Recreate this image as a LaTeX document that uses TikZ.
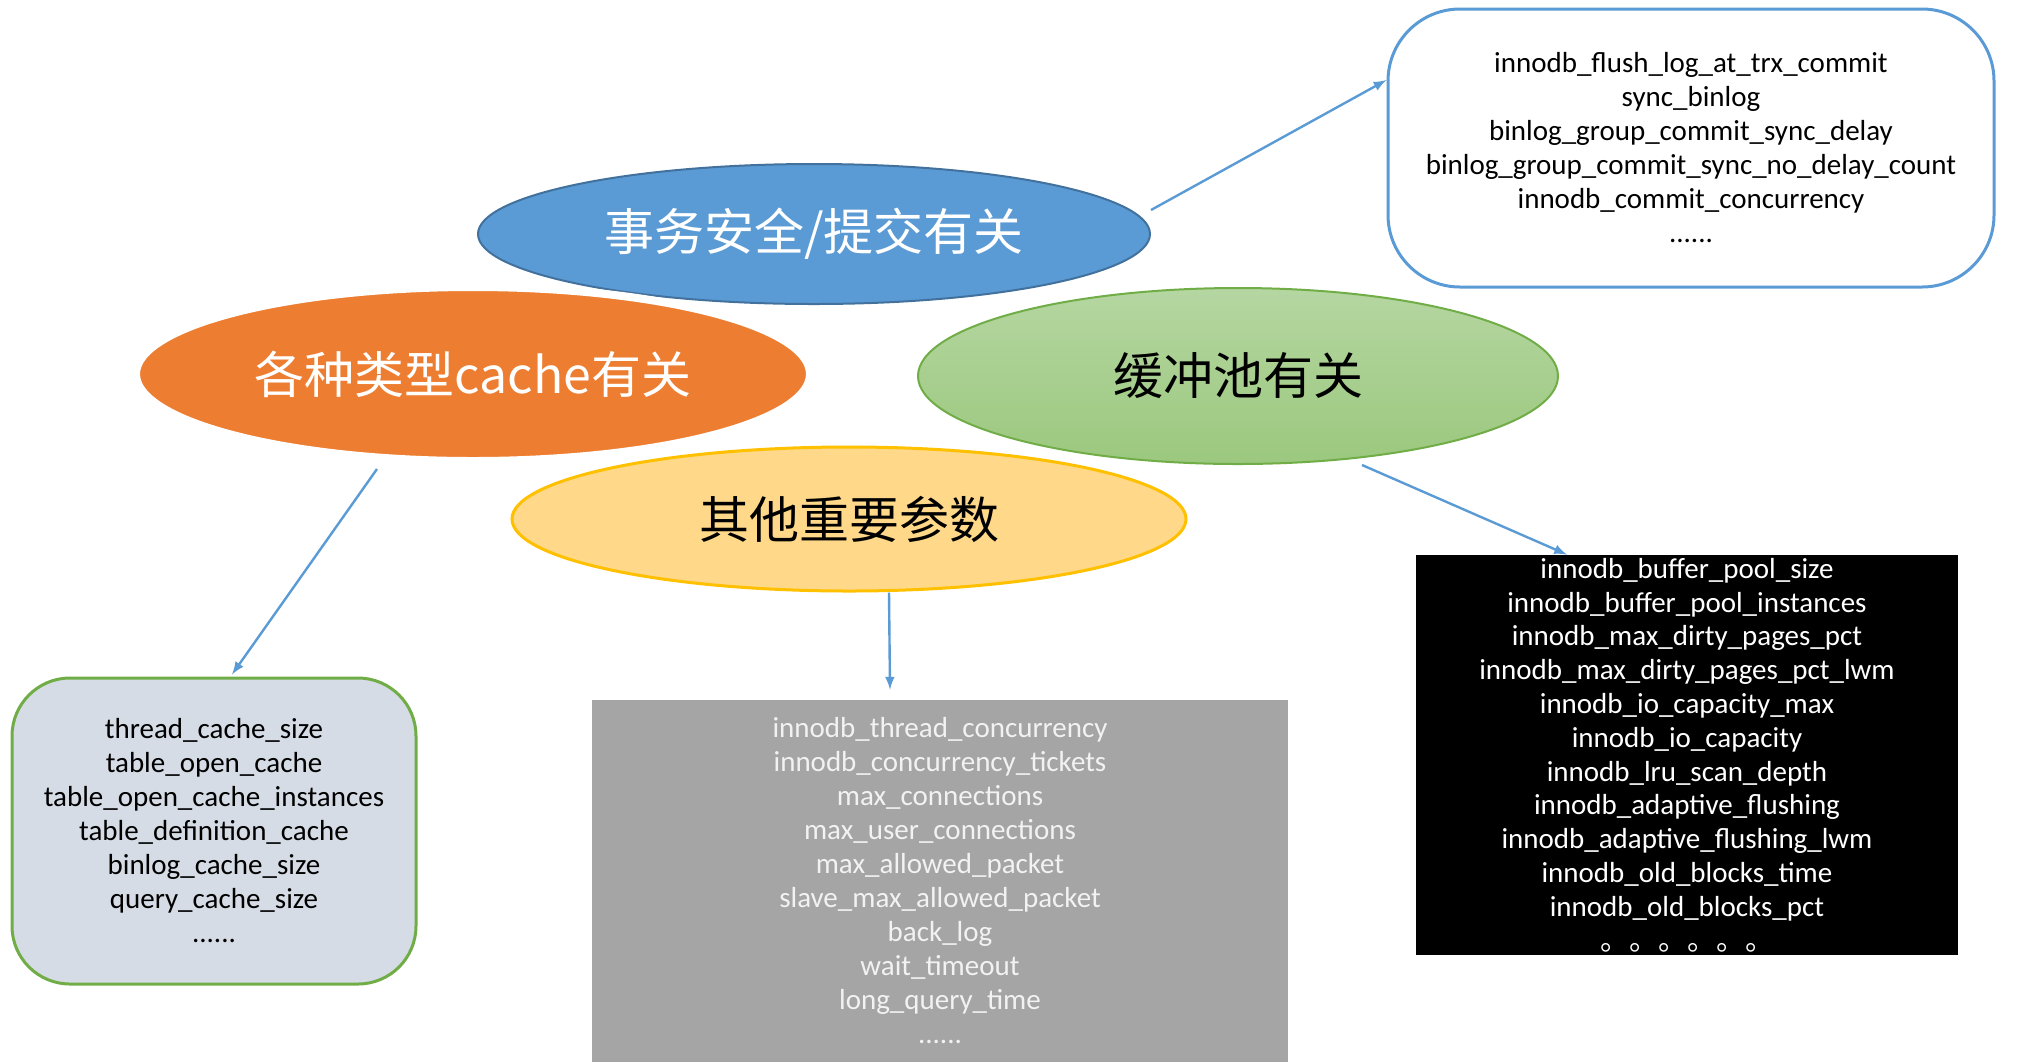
\documentclass[tikz,border=0pt]{standalone}
\usepackage{fontspec}
\setmainfont{Carlito}
\newfontfamily\cjk{Noto Sans CJK SC}
\usetikzlibrary{shapes.geometric, arrows, positioning}

\definecolor{trxblue}{HTML}{5B9BD5}
\definecolor{trxedge}{HTML}{41719C}
\definecolor{cacheorange}{HTML}{ED7D31}
\definecolor{pooltop}{HTML}{B5D6A1}
\definecolor{poolbottom}{HTML}{9BC87E}
\definecolor{pooledge}{HTML}{70AD47}
\definecolor{otheryellow}{HTML}{FFD889}
\definecolor{otheredge}{HTML}{FFC000}
\definecolor{cachefill}{HTML}{D6DCE5}
\definecolor{othergray}{HTML}{A5A5A5}

\begin{document}
\begin{tikzpicture}[
      x=0.5pt, y=-0.5pt,
      topic/.style={
          ellipse,
          inner sep=0pt,
          align=center,
          font=\cjk\fontsize{25}{30}\selectfont
        },
      params/.style={
          rectangle,
          inner sep=0pt,
          align=center,
          font=\fontsize{14.5}{17}\selectfont
        },
      arrow/.style={
          -latex,
          line width=1.2pt,
          draw=trxblue
        }
    ]

    \useasboundingbox (0,0) rectangle (2024,1062);

    % Topics
    \node[topic, draw=trxedge, line width=1pt, fill=trxblue, text=white,
          minimum width=336pt, minimum height=70pt] (trx) at (814,234) {事务安全/提交有关};
    \node[topic, draw=white, line width=4pt, fill=cacheorange, text=white,
          minimum width=337pt, minimum height=87pt] (cache) at (473,374) {各种类型cache有关};
    \node[topic, draw=pooledge, line width=1pt, top color=pooltop, bottom color=poolbottom,
          minimum width=320pt, minimum height=88pt] (pool) at (1238,376) {缓冲池有关};
    \node[topic, draw=otheredge, line width=1.5pt, fill=otheryellow,
          minimum width=337pt, minimum height=72pt] (other) at (849,519) {其他重要参数};

    % Parameter boxes
    \node[params, draw=trxblue, line width=1.5pt, fill=white, rounded corners=36pt,
          minimum width=303pt, minimum height=139pt] (trxbox) at (1691,148)
      {innodb\_flush\_log\_at\_trx\_commit\\ sync\_binlog\\ binlog\_group\_commit\_sync\_delay\\
       binlog\_group\_commit\_sync\_no\_delay\_count\\ innodb\_commit\_concurrency\\ ......};
    \node[params, fill=black, text=white, font=\fontsize{14.5}{16.9}\selectfont,
          minimum width=271pt, minimum height=200pt] (poolbox) at (1687,755)
      {innodb\_buffer\_pool\_size\\ innodb\_buffer\_pool\_instances\\ innodb\_max\_dirty\_pages\_pct\\
       innodb\_max\_dirty\_pages\_pct\_lwm\\ innodb\_io\_capacity\_max\\ innodb\_io\_capacity\\
       innodb\_lru\_scan\_depth\\ innodb\_adaptive\_flushing\\ innodb\_adaptive\_flushing\_lwm\\
       innodb\_old\_blocks\_time\\ innodb\_old\_blocks\_pct\\ {\cjk 。。。。。。}};
    \node[params, fill=othergray, text=white!95!black,
          minimum width=348pt, minimum height=181pt] (otherbox) at (940,881)
      {innodb\_thread\_concurrency\\ innodb\_concurrency\_tickets\\ max\_connections\\
       max\_user\_connections\\ max\_allowed\_packet\\ slave\_max\_allowed\_packet\\
       back\_log\\ wait\_timeout\\ long\_query\_time\\ ......};
    \node[params, draw=pooledge, line width=1.5pt, fill=cachefill, rounded corners=29pt,
          minimum width=202pt, minimum height=153pt] (cachebox) at (214,831)
      {thread\_cache\_size\\ table\_open\_cache\\ table\_open\_cache\_instances\\
       table\_definition\_cache\\ binlog\_cache\_size\\ query\_cache\_size\\ ......};

    % Arrows
    \draw[arrow] ([yshift=12pt]trx.east) -- ([yshift=34pt]trxbox.west);
    \draw[arrow] ([xshift=62pt]pool.south) -- ([xshift=-60pt]poolbox.north);
    \draw[arrow] ([xshift=-48pt,yshift=-2pt]cache.south) -- ([xshift=9pt,yshift=1pt]cachebox.north);
    \draw[arrow] ([xshift=20pt]other.south) -- ([xshift=-25pt,yshift=5pt]otherbox.north);

  \end{tikzpicture}
\end{document}
